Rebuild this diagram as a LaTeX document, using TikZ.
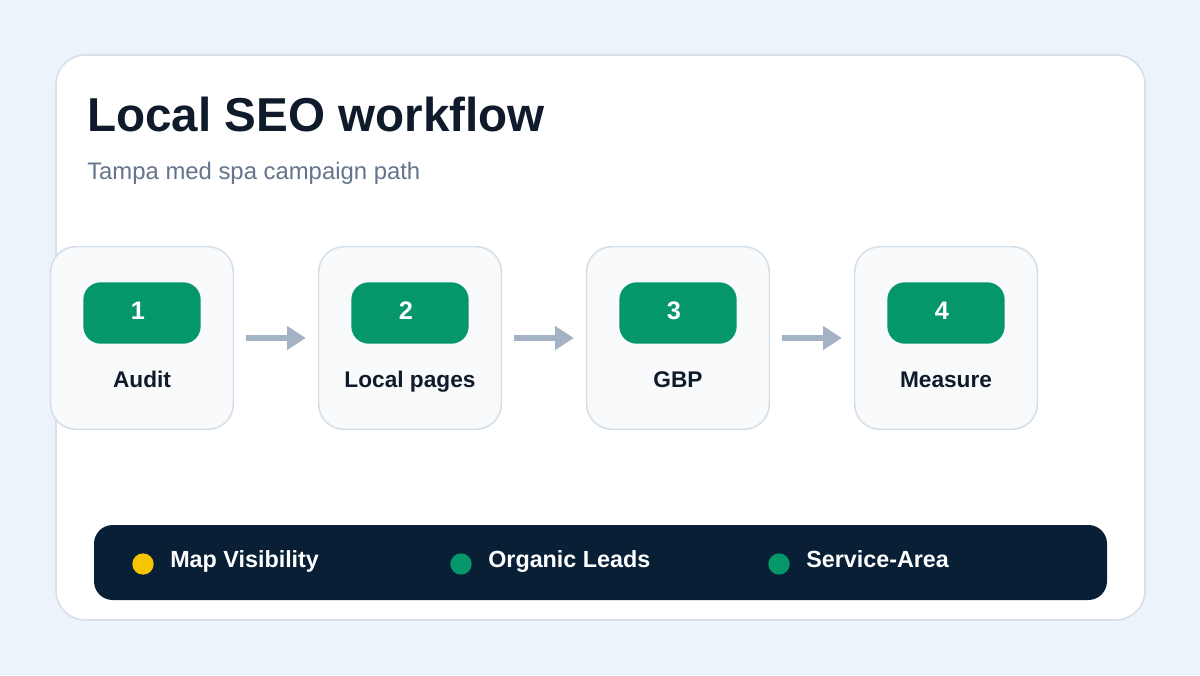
\documentclass[tikz,border=0pt]{standalone}
\usepackage{fontspec}
\setmainfont{Liberation Sans}
\usetikzlibrary{arrows.meta}
\definecolor{bg}{HTML}{EDF3FA}
\definecolor{bd}{HTML}{D6E0EA}
\definecolor{stepbg}{HTML}{F8FAFC}
\definecolor{grn}{HTML}{05976A}
\definecolor{ink}{HTML}{0F1B2A}
\definecolor{sub}{HTML}{64748B}
\definecolor{arr}{HTML}{A3B3C4}
\definecolor{navy}{HTML}{081F36}
\definecolor{yel}{HTML}{F8C300}
\tikzset{
  stepbox/.style={draw=bd,line width=1.2pt,fill=stepbg,rounded corners=19pt,minimum width=137pt,minimum height=137pt,inner sep=0pt},
  pill/.style={fill=grn,rounded corners=13pt,minimum width=88pt,minimum height=46pt,inner sep=0pt},
  num/.style={anchor=base,inner sep=0pt,text=white,font=\bfseries\fontsize{19}{22}\selectfont},
  lbl/.style={anchor=base,inner sep=0pt,text=ink,font=\bfseries\fontsize{17}{20}\selectfont},
  conn/.style={arr,line width=4.5pt,-{Triangle[length=14pt,width=17pt]},shorten <=9pt,shorten >=9pt},
  dot/.style={circle,minimum size=16pt,inner sep=0pt},
  leg/.style={anchor=base west,inner sep=0pt,text=white,font=\bfseries\fontsize{17.5}{20}\selectfont}
}
\begin{document}
\begin{tikzpicture}[x=0.75pt,y=-0.75pt]
\fill[bg] (0,0) rectangle (1200,675);
\useasboundingbox (0,0) rectangle (1200,675);
\draw[bd,line width=1.2pt,fill=white,rounded corners=22pt] (56,55) rectangle (1145,620);
\node[anchor=base west,inner sep=0pt,text=ink,font=\bfseries\fontsize{35.7}{42}\selectfont] (title) at (87,131) {Local SEO workflow};
\node[anchor=base west,inner sep=0pt,text=sub,font=\fontsize{17.9}{21}\selectfont] (subt) at (87,179) {Tampa med spa campaign path};
\foreach \i/\x/\t in {1/142/Audit,2/410/Local pages,3/678/GBP,4/946/Measure}{
  \node[stepbox] (s\i) at (\x,338) {};
  \node[pill] (p\i) at (\x,313) {};
  \node[num] (n\i) at (\x-4,319) {\i};
  \node[lbl] (l\i) at (\x,387) {\t};
}
\draw[conn] (s1.east) -- (s2.west);
\draw[conn] (s2.east) -- (s3.west);
\draw[conn] (s3.east) -- (s4.west);
\fill[navy,rounded corners=14pt] (94,525) rectangle (1107,600);
\node[dot,fill=yel] (d1) at (143,564) {};
\node[dot,fill=grn] (d2) at (461,564) {};
\node[dot,fill=grn] (d3) at (779,564) {};
\node[leg] (t1) at (170,567) {Map Visibility};
\node[leg] (t2) at (488,567) {Organic Leads};
\node[leg] (t3) at (806,567) {Service-Area};
\end{tikzpicture}
\end{document}
